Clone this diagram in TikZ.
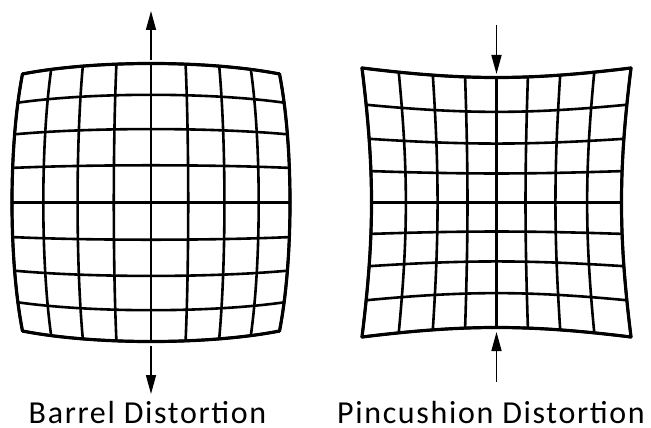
\documentclass[tikz,border=0pt]{standalone}
\usepackage{fontspec}
\setmainfont{Carlito}
\newfontfamily\lblfont[LetterSpace=5.2]{Carlito}
\usetikzlibrary{arrows.meta}
\newcommand\distgrid[4]{%
  \foreach \i in {-4,...,4}{%
    \pgfmathsetmacro\v{\i/4}%
    \draw[gridline] plot[domain=-1:1, samples=41, smooth, variable=\u]
      ({#1+#3*\u*(1+#4*(\u*\u+\v*\v))}, {#2+#3*\v*(1+#4*(\u*\u+\v*\v))});
    \draw[gridline] plot[domain=-1:1, samples=41, smooth, variable=\u]
      ({#1+#3*\v*(1+#4*(\u*\u+\v*\v))}, {#2+#3*\u*(1+#4*(\u*\u+\v*\v))});
  }%
  \foreach \v in {-1,1}{%
    \draw[edgeline] plot[domain=-1:1, samples=41, smooth, variable=\u]
      ({#1+#3*\u*(1+#4*(\u*\u+\v*\v))}, {#2+#3*\v*(1+#4*(\u*\u+\v*\v))});
    \draw[edgeline] plot[domain=-1:1, samples=41, smooth, variable=\u]
      ({#1+#3*\v*(1+#4*(\u*\u+\v*\v))}, {#2+#3*\u*(1+#4*(\u*\u+\v*\v))});
  }%
}
\begin{document}
\begin{tikzpicture}[x=1pt,y=-1pt,
  gridline/.style={line width=2.6pt, line cap=round, line join=round},
  edgeline/.style={line width=3.2pt, line cap=round, line join=round},
  arr/.style={line width=1.6pt, -{Triangle[length=19pt,width=10pt]}},
  lbl/.style={font=\lblfont\fontsize{32}{36}\selectfont, anchor=base, inner sep=0pt, text depth=0pt}]
\useasboundingbox (0,0) rectangle (651,428);
% barrel grid
\distgrid{151}{202.5}{149.5}{-0.0702}
% pincushion grid
\distgrid{496.5}{202.5}{115.5}{0.0823}
% arrows
\coordinate (bt1) at (151,60);  \coordinate (bt2) at (151,11);
\coordinate (bb1) at (151,346); \coordinate (bb2) at (151,394);
\coordinate (pt1) at (496.5,25);  \coordinate (pt2) at (496.5,74);
\coordinate (pb1) at (496.5,382); \coordinate (pb2) at (496.5,332);
\draw[arr] (bt1) -- (bt2);
\draw[arr] (bb1) -- (bb2);
\draw[arr] (pt1) -- (pt2);
\draw[arr] (pb1) -- (pb2);
% labels
\node[lbl] (blabel) at (147.5,423) {Barrel Distortion};
\node[lbl] (plabel) at (491,423) {Pincushion Distortion};
\end{tikzpicture}
\end{document}
